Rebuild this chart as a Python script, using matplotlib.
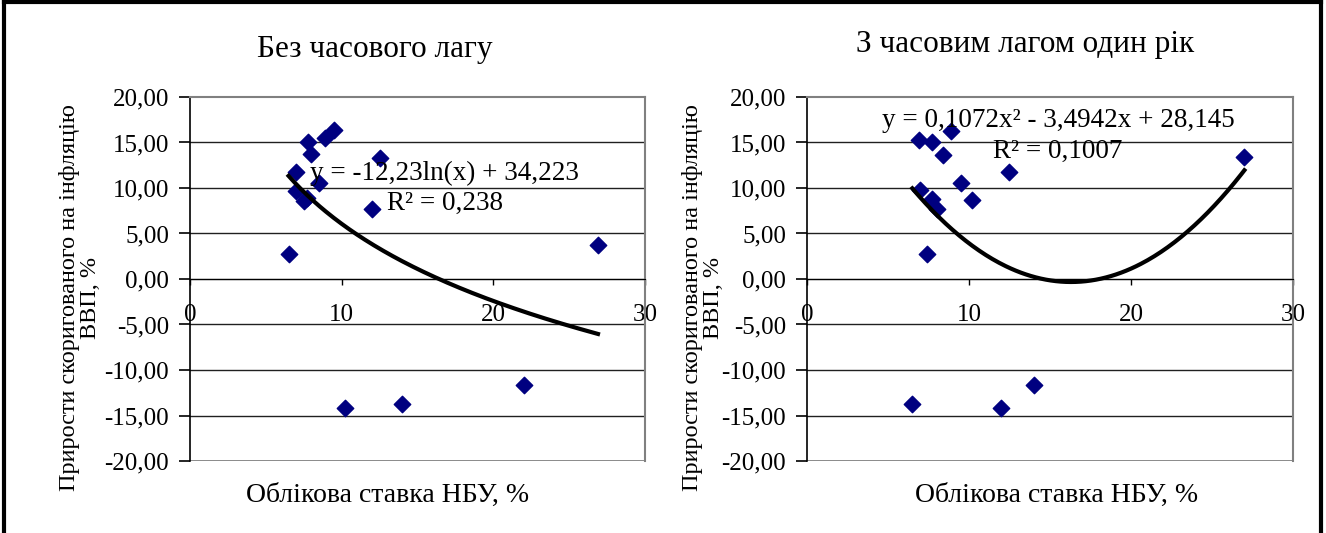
import numpy as np
import matplotlib
matplotlib.use('Agg')
import matplotlib.pyplot as plt
from matplotlib.lines import Line2D

plt.rcParams['font.family'] = ['Liberation Serif', 'DejaVu Serif']

# НБУ discount rate, % and inflation-adjusted GDP growth, %
rate_nolag = [6.5, 7.0, 7.0, 7.5, 7.7, 7.8, 8.0, 8.5, 8.9, 9.5, 12.5, 12.0, 26.9, 10.2, 14.0, 22.0]
gdp_nolag = [2.7, 11.8, 9.7, 8.6, 8.9, 15.1, 13.7, 10.5, 15.5, 16.4, 13.3, 7.7, 3.7, -14.2, -13.7, -11.7]

rate_lag = [6.9, 7.7, 8.9, 8.4, 12.5, 9.5, 7.0, 7.7, 8.0, 10.2, 7.4, 27.0, 6.5, 12.0, 14.0]
gdp_lag = [15.3, 15.1, 16.3, 13.6, 11.8, 10.6, 9.8, 8.8, 7.7, 8.7, 2.7, 13.4, -13.7, -14.2, -11.7]

# trend line coefficients
log_coef = (-12.23, 34.223)
poly_coef = (0.1072, -3.4942, 28.145)

titles = ['Без часового лагу', 'З часовим лагом один рік']
eq_nolag = ['y = -12,23ln(x) + 34,223', 'R² = 0,238']
eq_lag = ['y = 0,1072x² - 3,4942x + 28,145', 'R² = 0,1007']
x_ticks = [0, 10, 20, 30]
y_ticks = [-20, -15, -10, -5, 0, 5, 10, 15, 20]
y_label = 'Прирости скоригованого на інфляцію\nВВП, %'
x_label = 'Облікова ставка НБУ, %'

W, H = 1326, 533
fig = plt.figure(figsize=(W / 100, H / 100), dpi=100)


def px(x0, y0, x1, y1):
    return [x0 / W, 1 - y1 / H, (x1 - x0) / W, (y1 - y0) / H]


def style_axes(ax):
    ax.set_xlim(0, 30)
    ax.set_ylim(-20, 20)
    ax.set_yticks(y_ticks)
    ax.yaxis.set_major_formatter(plt.FuncFormatter(lambda v, p: ('%.2f' % v).replace('.', ',')))
    ax.set_xticks(x_ticks)
    for v in y_ticks[1:-1]:
        ax.axhline(v, color='#202020', lw=1.0, zorder=1)
    for s in ['top', 'right']:
        ax.spines[s].set_color('#808080')
        ax.spines[s].set_linewidth(1.5)
    ax.axhline(-20, color='#808080', lw=2.0, zorder=1)
    ax.spines['bottom'].set_position(('data', 0))
    ax.spines['bottom'].set_color('black')
    ax.spines['left'].set_color('black')
    ax.spines['left'].set_linewidth(1.2)
    ax.tick_params(axis='y', direction='out', length=8, width=1.2, pad=7, labelsize=18)
    ax.tick_params(axis='x', direction='out', length=4, width=1.0, pad=14, labelsize=18)


ax1 = fig.add_axes(px(190, 97, 645, 461))
ax2 = fig.add_axes(px(807, 97, 1293, 461))
for ax in (ax1, ax2):
    style_axes(ax)

# no lag: logarithmic trend
ax1.scatter(rate_nolag, gdp_nolag, marker='D', s=70, color='#000080', zorder=3)
xs = np.linspace(min(rate_nolag), max(rate_nolag), 200)
ax1.plot(xs, log_coef[0] * np.log(xs) + log_coef[1], color='black', lw=3, zorder=4)
ax1.text(16.8, 11.6, eq_nolag[0], fontsize=19.5, ha='center', va='center', zorder=5)
ax1.text(16.8, 8.3, eq_nolag[1], fontsize=19.5, ha='center', va='center', zorder=5)

# one-year lag: polynomial trend
ax2.scatter(rate_lag, gdp_lag, marker='D', s=70, color='#000080', zorder=3)
xs = np.linspace(min(rate_lag), max(rate_lag), 200)
ax2.plot(xs, np.polyval(poly_coef, xs), color='black', lw=3, zorder=4)
ax2.text(15.5, 17.4, eq_lag[0], fontsize=19.5, ha='center', va='center', zorder=5)
ax2.text(15.5, 14.05, eq_lag[1], fontsize=19.5, ha='center', va='center', zorder=5)

fig.text(375 / W, 1 - 50 / H, titles[0], fontsize=22.5, ha='center', va='center')
fig.text(1025 / W, 1 - 45 / H, titles[1], fontsize=22.5, ha='center', va='center')
for xl in (80, 703):
    fig.text(xl / W, 1 - 298 / H, y_label, fontsize=17.5, rotation=90,
             ha='center', va='center', multialignment='center', linespacing=0.95)
fig.text(388 / W, 1 - 495 / H, x_label, fontsize=20, ha='center', va='center')
fig.text(1057 / W, 1 - 495 / H, x_label, fontsize=20, ha='center', va='center')

# outer frame (top, left, right)
frame_kw = dict(color='black', lw=3, transform=fig.transFigure)
fig.add_artist(Line2D([4 / W, 4 / W], [0, 1 - 2 / H], **frame_kw))
fig.add_artist(Line2D([4 / W, 1321 / W], [1 - 2 / H, 1 - 2 / H], **frame_kw))
fig.add_artist(Line2D([1321 / W, 1321 / W], [0, 1 - 2 / H], **frame_kw))

fig.savefig('out.png', dpi=100, facecolor='white')
